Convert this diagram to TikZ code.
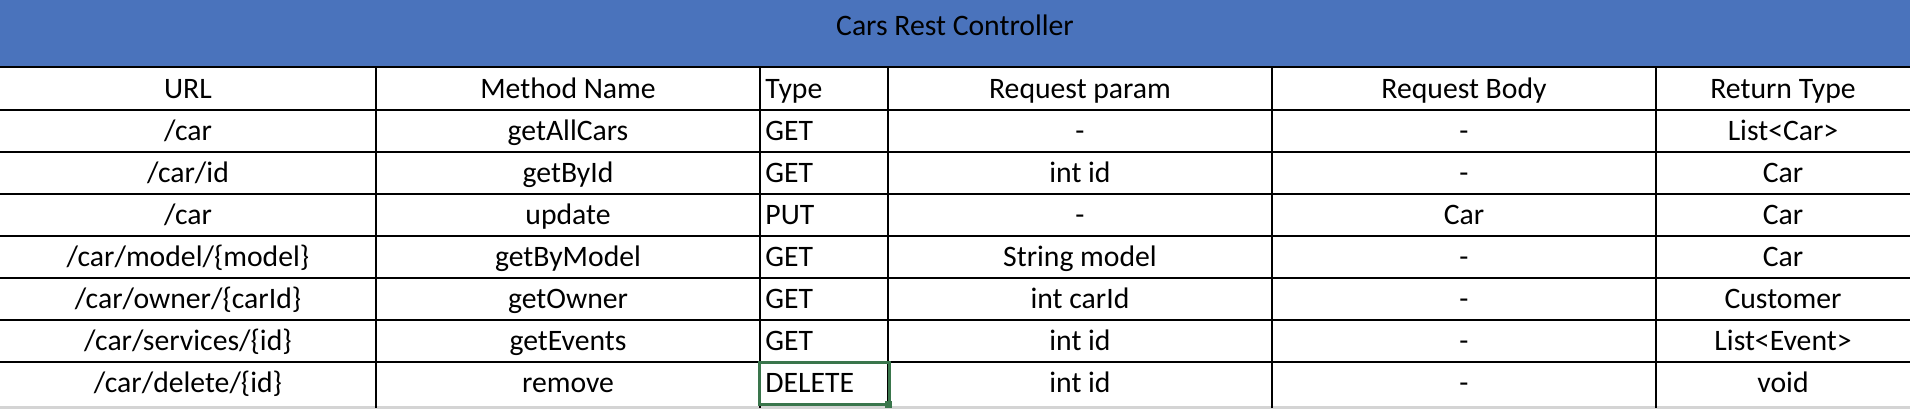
\documentclass[tikz,border=0pt]{standalone}
\usepackage{fontspec}
\setmainfont{Carlito}
\usepackage{tikz}
\usepackage{xcolor}
\definecolor{headblue}{RGB}{74,115,188}
\definecolor{selgreen}{RGB}{58,118,76}
\definecolor{edgegray}{RGB}{212,212,212}

\begin{document}
\begin{tikzpicture}[x=0.5pt, y=-0.5pt,
                    every node/.style={inner sep=0pt, anchor=base, font=\fontsize{14.85}{18}\selectfont},
                    typecell/.style={anchor=base west},
                    rule/.style={line width=1pt, black}]
                    \useasboundingbox (0,0) rectangle (1910,408);
                    \fill[headblue] (0,0) rectangle (1910,67);
                    \draw[edgegray, line width=1.5pt] (0,407) -- (1910,407);
                    \node (title) at (955,35) {Cars Rest Controller};

                    \node (hurl) at (188,98.5) {URL};
                    \node (hname) at (568,98.5) {Method Name};
                    \node[typecell] (htype) at (765,98.5) {Type};
                    \node (hparam) at (1080,98.5) {Request param};
                    \node (hbody) at (1464,98.5) {Request Body};
                    \node (hret) at (1783,98.5) {Return Type};

                    \node (url1) at (188,140.5) {/car};
                    \node (name1) at (568,140.5) {getAllCars};
                    \node[typecell] (type1) at (765,140.5) {GET};
                    \node (param1) at (1080,140.5) {-};
                    \node (body1) at (1464,140.5) {-};
                    \node (ret1) at (1783,140.5) {List<Car>};

                    \node (url2) at (188,182.5) {/car/id};
                    \node (name2) at (568,182.5) {getById};
                    \node[typecell] (type2) at (765,182.5) {GET};
                    \node (param2) at (1080,182.5) {int id};
                    \node (body2) at (1464,182.5) {-};
                    \node (ret2) at (1783,182.5) {Car};

                    \node (url3) at (188,224.5) {/car};
                    \node (name3) at (568,224.5) {update};
                    \node[typecell] (type3) at (765,224.5) {PUT};
                    \node (param3) at (1080,224.5) {-};
                    \node (body3) at (1464,224.5) {Car};
                    \node (ret3) at (1783,224.5) {Car};

                    \node (url4) at (188,266.5) {/car/model/\{model\}};
                    \node (name4) at (568,266.5) {getByModel};
                    \node[typecell] (type4) at (765,266.5) {GET};
                    \node (param4) at (1080,266.5) {String model};
                    \node (body4) at (1464,266.5) {-};
                    \node (ret4) at (1783,266.5) {Car};

                    \node (url5) at (188,308.5) {/car/owner/\{carId\}};
                    \node (name5) at (568,308.5) {getOwner};
                    \node[typecell] (type5) at (765,308.5) {GET};
                    \node (param5) at (1080,308.5) {int carId};
                    \node (body5) at (1464,308.5) {-};
                    \node (ret5) at (1783,308.5) {Customer};

                    \node (url6) at (188,350.5) {/car/services/\{id\}};
                    \node (name6) at (568,350.5) {getEvents};
                    \node[typecell] (type6) at (765,350.5) {GET};
                    \node (param6) at (1080,350.5) {int id};
                    \node (body6) at (1464,350.5) {-};
                    \node (ret6) at (1783,350.5) {List<Event>};

                    \node (url7) at (188,392.5) {/car/delete/\{id\}};
                    \node (name7) at (568,392.5) {remove};
                    \node[typecell] (type7) at (765,392.5) {DELETE};
                    \node (param7) at (1080,392.5) {int id};
                    \node (body7) at (1464,392.5) {-};
                    \node (ret7) at (1783,392.5) {void};

                    \draw[rule] (0,67) -- (1910,67);
                    \draw[rule] (0,110) -- (1910,110);
                    \draw[rule] (0,152) -- (1910,152);
                    \draw[rule] (0,194) -- (1910,194);
                    \draw[rule] (0,236) -- (1910,236);
                    \draw[rule] (0,278) -- (1910,278);
                    \draw[rule] (0,320) -- (1910,320);
                    \draw[rule] (0,362) -- (1910,362);

                    \draw[rule] (376,67) -- (376,408);
                    \draw[rule] (760,67) -- (760,408);
                    \draw[rule] (888,67) -- (888,408);
                    \draw[rule] (1272,67) -- (1272,408);
                    \draw[rule] (1656,67) -- (1656,408);

                    \draw[selgreen, line width=1.5pt] (759,362) rectangle (889,404.5);
                    \fill[selgreen] (885,401) rectangle (892,408);
                \end{tikzpicture}
\end{document}
